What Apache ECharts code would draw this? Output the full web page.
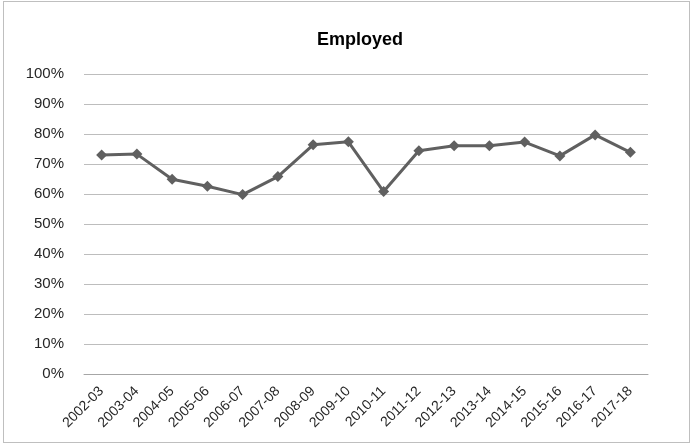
<!DOCTYPE html>
<html><head><meta charset="utf-8">
<script src="https://cdn.jsdelivr.net/npm/echarts@6/dist/echarts.min.js"></script>
<style>
html,body{margin:0;padding:0;background:#fff;}
#frame{position:absolute;left:3px;top:1px;width:687px;height:442px;border:1px solid #bfbfbf;box-sizing:border-box;}
#c{position:absolute;left:0;top:0;width:694px;height:445px;}
</style></head>
<body><div id="frame"></div><div id="c"></div>
<script>
const categories = ["2002-03","2003-04","2004-05","2005-06","2006-07","2007-08","2008-09","2009-10","2010-11","2011-12","2012-13","2013-14","2014-15","2015-16","2016-17","2017-18"];
const employed = [73.0,73.3,64.9,62.6,59.8,65.8,76.4,77.4,60.8,74.4,76.1,76.1,77.3,72.7,79.7,73.9];
const yTicks = [0,10,20,30,40,50,60,70,80,90,100];
const chartTitle = "Employed";

const chart = echarts.init(document.getElementById('c'), null, {renderer:'canvas'});
const font = "Liberation Sans, Arial, sans-serif";
chart.setOption({
  animation:false,
  title:{text:chartTitle,left:355,top:26,textAlign:'center',
    textStyle:{fontFamily:font,fontSize:18,fontWeight:'bold',color:'#000'}},
  grid:{left:84,right:46,top:74,bottom:71,containLabel:false},
  xAxis:{type:'category',data:categories,boundaryGap:true,
    axisLine:{show:true,lineStyle:{color:'#a6a6a6',width:1}},
    axisTick:{show:false},
    axisLabel:{rotate:45,interval:0,fontFamily:font,fontSize:14,color:'#262626',margin:15}},
  yAxis:{type:'value',min:yTicks[0],max:yTicks[yTicks.length-1],interval:10,
    axisLine:{show:false},axisTick:{show:false},
    axisLabel:{formatter:v=>v+'%',fontFamily:font,fontSize:15,color:'#262626',margin:20},
    splitLine:{lineStyle:{color:'#bdbdbd',width:1}}},
  series:[{type:'line',data:employed,symbol:'diamond',symbolSize:11,
    lineStyle:{color:'#606060',width:3},itemStyle:{color:'#606060'}}]
});
</script></body></html>
